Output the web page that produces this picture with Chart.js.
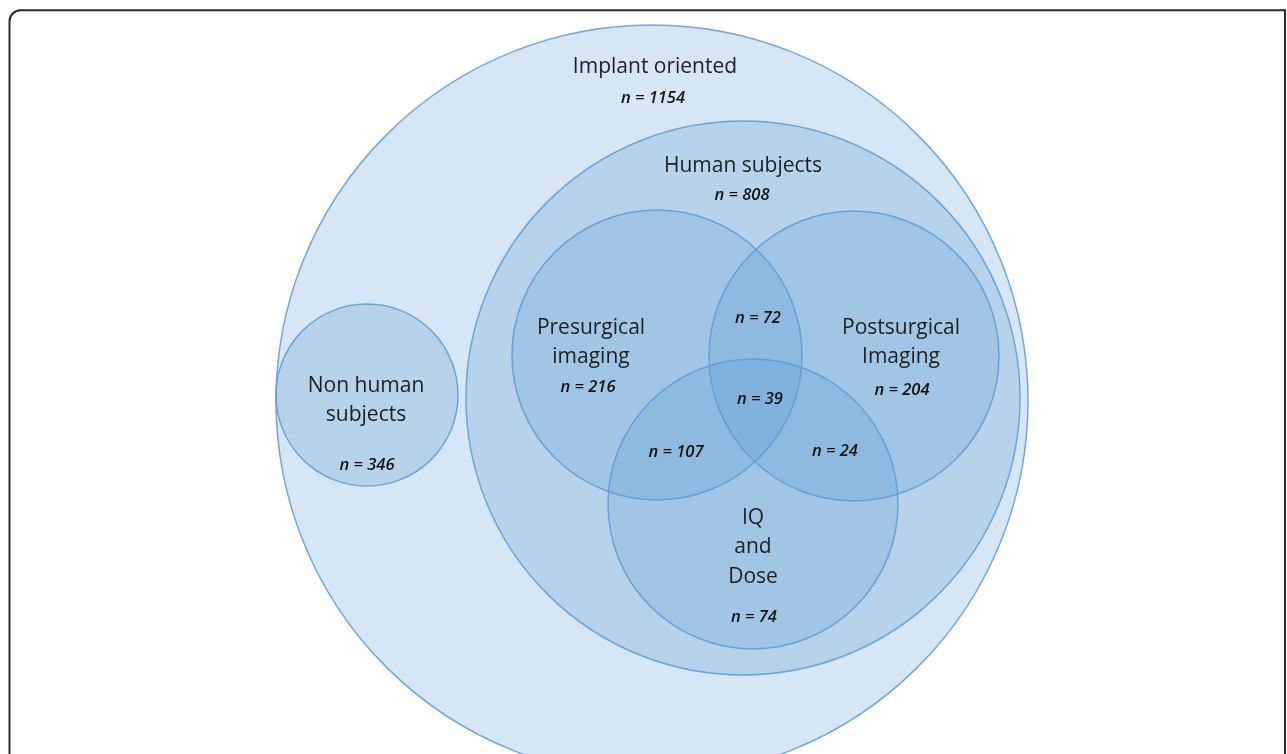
<!DOCTYPE html>
<html>
<head>
<meta charset="utf-8">
<title>Implant imaging literature</title>
<script src="https://cdn.jsdelivr.net/npm/chart.js@4.4.1/dist/chart.umd.min.js"></script>
<style>
  html, body { margin: 0; padding: 0; background: #fff; overflow: hidden; }
  .wrap { position: relative; width: 1287px; height: 754px; }
</style>
</head>
<body>
<div class="wrap"><canvas id="vennChart"></canvas></div>
<script>
// Sets and their counts
const setNames = ['Implant oriented', 'Human subjects', 'Non human subjects', 'Presurgical imaging', 'Postsurgical Imaging', 'IQ and Dose'];
const setCounts = [1154, 808, 346, 216, 204, 74];

// Overlaps between the three imaging sets
const overlapNames = ['Presurgical + Postsurgical', 'All three', 'Presurgical + IQ/Dose', 'Postsurgical + IQ/Dose'];
const overlapCounts = [72, 39, 107, 24];

// Circle layout (scale units = pixels)
const circleX = [652, 743, 367, 657, 854, 753];
const circleY = [401, 398, 395, 355, 356, 504];
const circleR = [376, 277, 91, 145, 145, 145];

// Name lines and where the labels sit
const nameLines = [['Implant oriented'], ['Human subjects'], ['Non human', 'subjects'], ['Presurgical', 'imaging'], ['Postsurgical', 'Imaging'], ['IQ', 'and', 'Dose']];
const nameAt = [[655, 73], [743, 172], [366, 392], [591, 334], [901, 334], [753, 524]];
const countAt = [[653, 103], [742, 200], [367, 470], [588, 392], [902, 395], [754, 622]];
const overlapAt = [[758, 323], [760, 404], [676, 457], [835, 456]];

const lineGap = 29.3;

document.addEventListener('DOMContentLoaded', function() {

  const ctx = document.getElementById('vennChart').getContext('2d');

  // frame + labels
  const vennLabels = {
    id: 'vennLabels',
    beforeDraw(chart) {
      const c = chart.ctx;
      c.save();
      c.strokeStyle = '#2a2a2a';
      c.lineWidth = 2;
      c.beginPath();
      c.moveTo(9.5, 800);
      c.lineTo(9.5, 22);
      c.arcTo(9.5, 10.3, 21, 10.3, 11);
      c.lineTo(1285, 10.3);
      c.lineTo(1285, 800);
      c.stroke();
      c.restore();
    },
    afterDatasetsDraw(chart) {
      const c = chart.ctx;
      const xs = chart.scales.x, ys = chart.scales.y;
      c.save();
      c.textAlign = 'center';
      c.textBaseline = 'alphabetic';

      c.fillStyle = '#1f1f1f';
      c.font = '21px "Open Sans", sans-serif';
      nameLines.forEach((lines, i) => {
        lines.forEach((txt, j) => {
          c.fillText(txt, xs.getPixelForValue(nameAt[i][0]), ys.getPixelForValue(nameAt[i][1] + j * lineGap));
        });
      });

      c.fillStyle = '#111';
      c.font = 'italic 600 16.5px "Open Sans", sans-serif';
      setCounts.forEach((v, i) => {
        c.fillText('n = ' + v, xs.getPixelForValue(countAt[i][0]), ys.getPixelForValue(countAt[i][1]));
      });
      overlapCounts.forEach((v, i) => {
        c.fillText('n = ' + v, xs.getPixelForValue(overlapAt[i][0]), ys.getPixelForValue(overlapAt[i][1]));
      });
      c.restore();
    }
  };

  new Chart(ctx, {
    type: 'bubble',
    data: {
      labels: setNames,
      datasets: [{
        label: 'Sets',
        data: setNames.map((name, i) => ({ x: circleX[i], y: circleY[i], r: circleR[i] })),
        backgroundColor: 'rgba(91, 155, 213, 0.25)',
        borderColor: 'rgba(91, 155, 213, 0.85)',
        borderWidth: 1.5,
        clip: false
      }]
    },
    options: {
      responsive: true,
      maintainAspectRatio: false,
      animation: false,
      events: [],
      layout: { padding: 0, autoPadding: false },
      plugins: {
        legend: { display: false },
        tooltip: { enabled: false }
      },
      scales: {
        x: { type: 'linear', min: 0, max: 1287, display: false },
        y: { type: 'linear', min: 0, max: 754, reverse: true, display: false }
      }
    },
    plugins: [vennLabels]
  });
});
</script>
</body>
</html>
